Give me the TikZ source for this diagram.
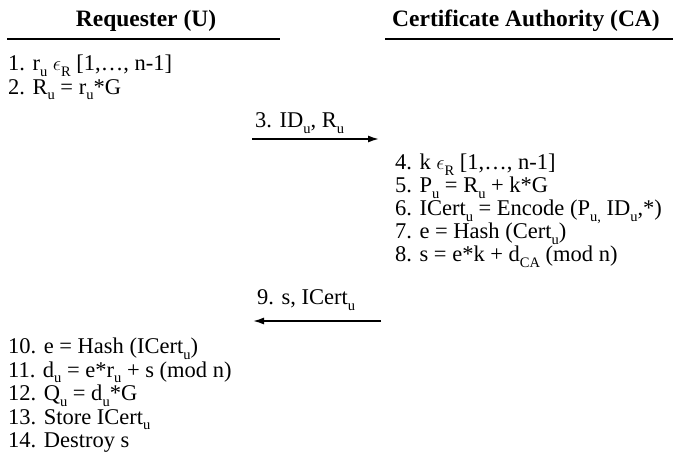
\documentclass[tikz,border=0pt]{standalone}
\usepackage{fontspec}
\setmainfont{Liberation Serif}
\usetikzlibrary{arrows.meta}
% lowered subscript in text font
\newcommand{\sbs}[1]{\raisebox{-0.24em}{\fontsize{14.5}{14.5}\selectfont #1}}
\newcommand{\eR}{ $\epsilon$\sbs{R} }
\tikzset{
  stepline/.style={inner sep=0pt, anchor=base west,
    font=\fontsize{22.5}{24}\selectfont},
  headtext/.style={inner sep=0pt, anchor=base, font=\fontsize{23.5}{24}\selectfont\bfseries},
  rulebar/.style={line width=1.6pt},
  msg/.style={line width=1.6pt, -{Latex[length=11pt,width=7pt]}},
}
\begin{document}
\begin{tikzpicture}[x=1pt,y=1pt]
\useasboundingbox (0,0) rectangle (673,-470);

% column headings
\node[headtext] (hu) at (146,-27) {Requester (U)};
\node[headtext] (hca) at (526,-27) {Certificate Authority (CA)};
\coordinate (ru1) at (7,-39);  \coordinate (ru2) at (280,-39);
\coordinate (rc1) at (385,-39); \coordinate (rc2) at (673,-39);
\draw[rulebar] (ru1) -- (ru2);
\draw[rulebar] (rc1) -- (rc2);

% requester, first steps
\node[stepline] (s1) at (8,-71) {1. r\sbs{u}\eR[1,\dots, n-1]};
\node[stepline] (s2) at (8,-94.5) {2. R\sbs{u} = r\sbs{u}*G};

% message 3
\node[stepline] (m3) at (255,-128) {3. ID\sbs{u}, R\sbs{u}};
\coordinate (a3s) at (252,-139); \coordinate (a3e) at (379,-139);
\draw[msg] (a3s) -- (a3e);

% certificate authority steps
\node[stepline] (s4) at (395,-170) {4. k\eR[1,\dots, n-1]};
\node[stepline] (s5) at (395,-193) {5. P\sbs{u} = R\sbs{u} + k*G};
\node[stepline] (s6) at (395,-216) {6. ICert\sbs{u} = Encode (P\sbs{u,} ID\sbs{u},*)};
\node[stepline] (s7) at (395,-239) {7. e = Hash (Cert\sbs{u})};
\node[stepline] (s8) at (395,-262) {8. s = e*k + d\sbs{CA} (mod n)};

% message 9
\node[stepline] (m9) at (257,-305) {9. s, ICert\sbs{u}};
\coordinate (a9s) at (381,-321); \coordinate (a9e) at (253,-321);
\draw[msg] (a9s) -- (a9e);

% requester, final steps
\node[stepline] (s10) at (8,-354) {10. e = Hash (ICert\sbs{u})};
\node[stepline] (s11) at (8,-377.5) {11. d\sbs{u} = e*r\sbs{u} + s (mod n)};
\node[stepline] (s12) at (8,-401) {12. Q\sbs{u} = d\sbs{u}*G};
\node[stepline] (s13) at (8,-424.5) {13. Store ICert\sbs{u}};
\node[stepline] (s14) at (8,-448) {14. Destroy s};
\end{tikzpicture}
\end{document}
